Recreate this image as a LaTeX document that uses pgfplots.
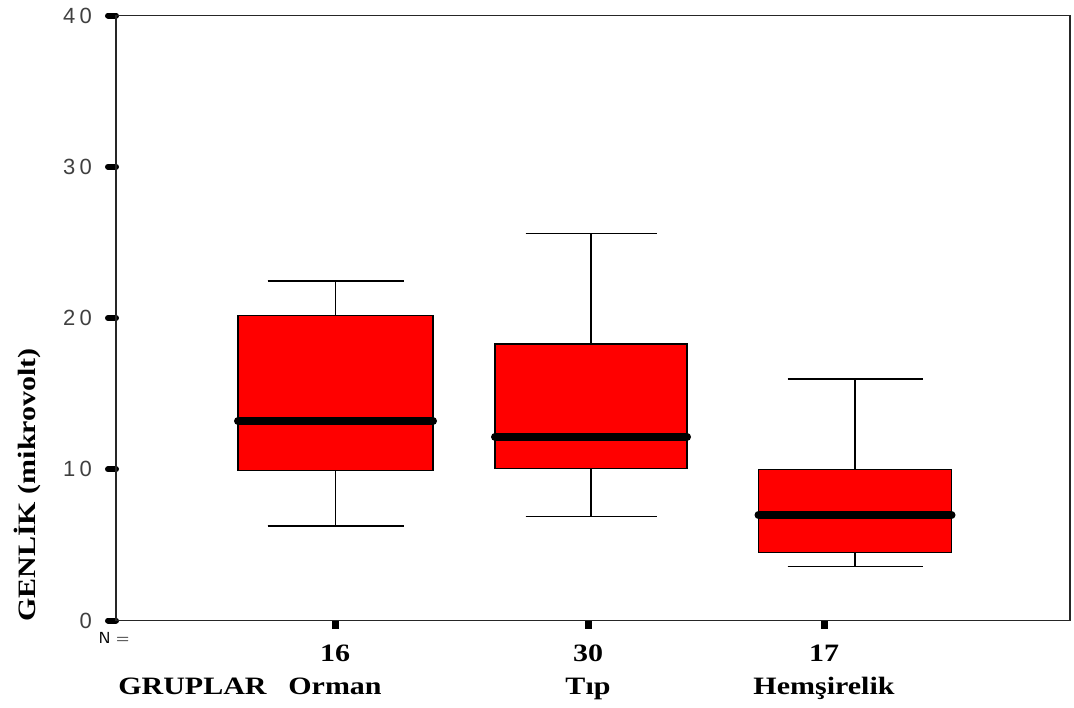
\documentclass[border=0pt]{standalone}
\usepackage{fontspec}
\setmainfont{Liberation Serif}
\newfontfamily\labfont[FakeStretch=1.2]{Liberation Serif}
\newfontfamily\tickfont[LetterSpace=20]{Liberation Sans}
\usepackage{pgfplots}
\pgfplotsset{compat=1.18}
\usepgfplotslibrary{statistics}
\begin{document}
\begin{tikzpicture}
\useasboundingbox (0,0) rectangle (537pt,353.5pt);
\begin{axis}[
  at={(58pt,43.25pt)}, anchor=south west,
  scale only axis, width=477pt, height=302.5pt,
  xmin=116, xmax=1070, ymin=0, ymax=40,
  axis line style={line width=0.9pt, black!85},
  clip=false,
  ytick={0,10,20,30,40},
  xtick={335,588,824},
  xticklabels={{16\\Orman},{30\\Tıp},{17\\Hemşirelik}},
  xticklabel style={align=center, font=\labfont\bfseries\fontsize{12.5}{16.5}\selectfont, yshift=-4.5pt},
  yticklabel style={font=\tickfont\fontsize{11}{12}\selectfont, text=black!75, xshift=-4.5pt},
  /pgf/number format/assume math mode=true,
  tick align=outside,
  tick pos=left,
  major tick length=4pt,
  y tick style={line width=3pt, line cap=round, black},
  x tick style={line width=3.5pt, black},
  boxplot/draw direction=y,
]
\addplot+[solid, draw=black, fill=red, mark=none, line width=0.6pt,
  boxplot prepared={draw position=335.5, lower whisker=6.25, lower quartile=9.9, median=13.19, upper quartile=20.19, upper whisker=22.46, box extend=195, whisker extend=136,
  every median/.style={line width=4pt, line cap=round, draw=black},
  every whisker/.style={line width=0.75pt, draw=black}}]
  table[row sep=\\,y index=0] {\\};
\addplot+[solid, draw=black, fill=red, mark=none, line width=0.6pt,
  boxplot prepared={draw position=591, lower whisker=6.86, lower quartile=10.06, median=12.15, upper quartile=18.28, upper whisker=25.6, box extend=192, whisker extend=131,
  every median/.style={line width=4pt, line cap=round, draw=black},
  every whisker/.style={line width=0.75pt, draw=black}}]
  table[row sep=\\,y index=0] {\\};
\addplot+[solid, draw=black, fill=red, mark=none, line width=0.6pt,
  boxplot prepared={draw position=855, lower whisker=3.56, lower quartile=4.48, median=6.97, upper quartile=10.01, upper whisker=15.96, box extend=193, whisker extend=135,
  every median/.style={line width=4pt, line cap=round, draw=black},
  every whisker/.style={line width=0.75pt, draw=black}}]
  table[row sep=\\,y index=0] {\\};
\node[rotate=90, font=\labfont\bfseries\fontsize{12.5}{14}\selectfont] at (rel axis cs:-0.0933,0.224) {GENLİK (mikrovolt)};
\node[font=\labfont\bfseries\fontsize{12.5}{14}\selectfont] at (axis cs:192.5,-4.33) {GRUPLAR};
\node[font=\sffamily\fontsize{8}{9}\selectfont] at (axis cs:114,-1.16) {N =};
\end{axis}
\end{tikzpicture}
\end{document}
